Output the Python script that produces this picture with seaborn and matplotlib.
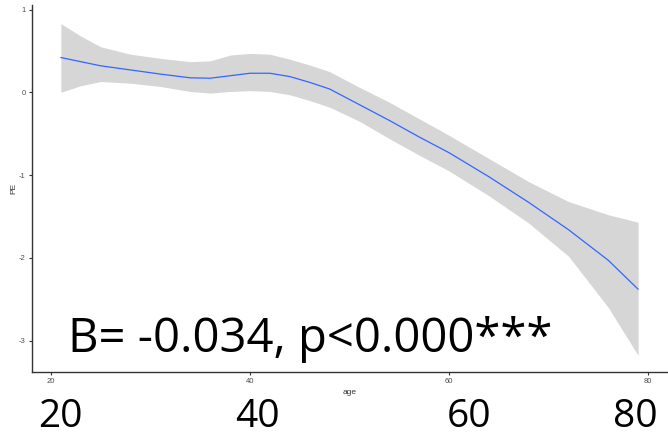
import matplotlib
matplotlib.use("Agg")
import matplotlib.pyplot as plt
import seaborn as sns
import pandas as pd

age = [21, 23, 25, 28, 31, 34, 36, 38, 40, 42, 44, 46, 48, 51, 54, 57, 60, 64, 68, 72, 76, 79]
pe = [0.42, 0.37, 0.32, 0.27, 0.22, 0.175, 0.17, 0.2, 0.23, 0.23, 0.19, 0.12, 0.04, -0.15, -0.34, -0.54, -0.73, -1.02, -1.33, -1.66, -2.03, -2.38]
upper = [0.83, 0.68, 0.55, 0.46, 0.41, 0.37, 0.38, 0.45, 0.47, 0.46, 0.40, 0.33, 0.25, 0.06, -0.12, -0.32, -0.52, -0.80, -1.08, -1.32, -1.48, -1.57]
lower = [0.0, 0.08, 0.13, 0.11, 0.07, 0.01, -0.01, 0.01, 0.02, 0.01, -0.03, -0.10, -0.18, -0.35, -0.56, -0.76, -0.95, -1.25, -1.58, -1.98, -2.6, -3.18]

x_ticks = [20, 40, 60, 80]
y_ticks = [-3, -2, -1, 0, 1]
big_x_labels = ["20", "40", "60", "80"]
annotation = "B= -0.034, p<0.000***"

df = pd.DataFrame({"age": age, "PE": pe, "upper": upper, "lower": lower})

sns.set_theme(style="ticks")
plt.rcParams["font.family"] = ["Liberation Sans", "DejaVu Sans"]
plt.rcParams["axes.unicode_minus"] = False

fig = plt.figure(figsize=(6.68, 4.37), dpi=100)
ax = fig.add_axes([32 / 668, 1 - 372 / 437, 635 / 668, (372 - 5.4) / 437])

ax.fill_between(df["age"], df["lower"], df["upper"], color="#d6d6d6", linewidth=0)
sns.lineplot(data=df, x="age", y="PE", ax=ax, color="#3366FF", linewidth=0.9)

ax.set_xlim(18.1, 81.9)
ax.set_ylim(-3.38, 1.05)
ax.set_xticks(x_ticks)
ax.set_yticks(y_ticks)
ax.tick_params(axis="both", labelsize=5.5, colors="#333333", labelcolor="#4D4D4D",
               length=2.5, width=0.8, pad=2)
for s in ["top", "right"]:
    ax.spines[s].set_visible(False)
for s in ["left", "bottom"]:
    ax.spines[s].set_color("#333333")
    ax.spines[s].set_linewidth(1.0)
ax.set_xlabel("age", fontsize=6, color="#333333", labelpad=3)
ax.set_ylabel("PE", fontsize=6, color="#333333", labelpad=1)

fig.text(68 / 668, 1 - 352 / 437, annotation, fontsize=34, family=["Open Sans", "DejaVu Sans"],
         ha="left", va="baseline", color="black")

centers = [60, 257, 469, 635]
for lab, cx in zip(big_x_labels, centers):
    fig.text(cx / 668, 1 - 436 / 437, lab, fontsize=28, family=["Open Sans", "DejaVu Sans"],
             ha="center", va="bottom", color="black")

fig.savefig("out.png", dpi=100)
